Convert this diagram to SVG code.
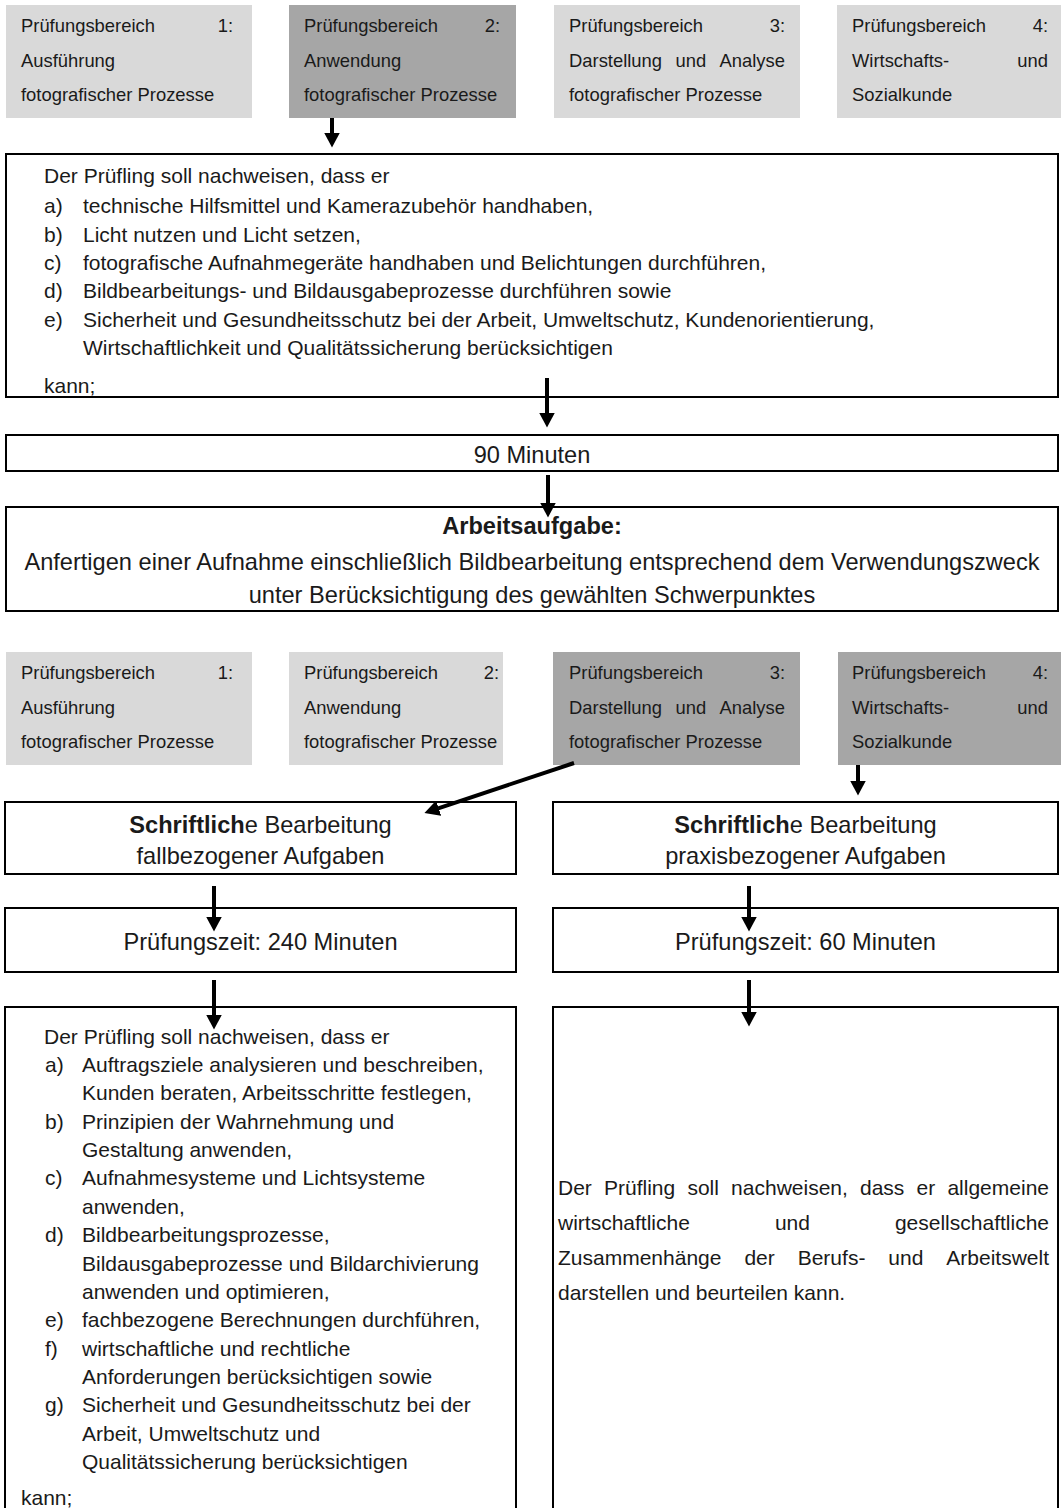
<svg xmlns="http://www.w3.org/2000/svg" width="1061" height="1508" viewBox="0 0 1061 1508">
<style>
text { font-family: "Liberation Sans", Arial, sans-serif; fill: #1a1a1a; }
.g { font-size: 18.4px; }
.m { font-size: 21px; }
.l { font-size: 23.6px; }
.b { font-weight: bold; }
.c { text-anchor: middle; }
.e { text-anchor: end; }
.box { fill: #fff; stroke: #000; stroke-width: 2; }
.lg { fill: #d9d9d9; }
.dg { fill: #a6a6a6; }
.arr { stroke: #000; stroke-width: 4; fill: none; marker-end: url(#ah); }
</style>
<defs>
<marker id="ah" markerUnits="userSpaceOnUse" markerWidth="16" markerHeight="16" refX="0.5" refY="8" orient="auto">
<path d="M0,0 L15,8 L0,16 z" fill="#000"/>
</marker>
</defs>
<rect width="1061" height="1508" fill="#fff"/>

<!-- top row -->
<g id="pb1-top">
<rect class="lg" x="6" y="5" width="246" height="113"/>
<text class="g" x="21" y="32">Prüfungsbereich</text><text class="g e" x="233" y="32">1:</text>
<text class="g" x="21" y="66.5">Ausführung</text>
<text class="g" x="21" y="101">fotografischer Prozesse</text>
</g>
<g id="pb2-top">
<rect class="dg" x="289" y="5" width="227" height="113"/>
<text class="g" x="304" y="32">Prüfungsbereich</text><text class="g e" x="500" y="32">2:</text>
<text class="g" x="304" y="66.5">Anwendung</text>
<text class="g" x="304" y="101">fotografischer Prozesse</text>
</g>
<g id="pb3-top">
<rect class="lg" x="554" y="5" width="246" height="113"/>
<text class="g" x="569" y="32">Prüfungsbereich</text><text class="g e" x="785" y="32">3:</text>
<text class="g" x="569" y="66.5">Darstellung</text><text class="g" x="675.5" y="66.5">und</text><text class="g e" x="785" y="66.5">Analyse</text>
<text class="g" x="569" y="101">fotografischer Prozesse</text>
</g>
<g id="pb4-top">
<rect class="lg" x="837" y="5" width="224" height="113"/>
<text class="g" x="852" y="32">Prüfungsbereich</text><text class="g e" x="1048" y="32">4:</text>
<text class="g" x="852" y="66.5">Wirtschafts-</text><text class="g e" x="1048" y="66.5">und</text>
<text class="g" x="852" y="101">Sozialkunde</text>
</g>

<g id="ziele-top">
<rect class="box" x="6" y="154" width="1052" height="243"/>
<text class="m" x="44" y="183">Der Prüfling soll nachweisen, dass er</text>
<text class="m" x="44" y="213">a)</text><text class="m" x="83" y="213">technische Hilfsmittel und Kamerazubehör handhaben,</text>
<text class="m" x="44" y="242">b)</text><text class="m" x="83" y="242">Licht nutzen und Licht setzen,</text>
<text class="m" x="44" y="270">c)</text><text class="m" x="83" y="270">fotografische Aufnahmegeräte handhaben und Belichtungen durchführen,</text>
<text class="m" x="44" y="298">d)</text><text class="m" x="83" y="298">Bildbearbeitungs- und Bildausgabeprozesse durchführen sowie</text>
<text class="m" x="44" y="327">e)</text><text class="m" x="83" y="327">Sicherheit und Gesundheitsschutz bei der Arbeit, Umweltschutz, Kundenorientierung,</text>
<text class="m" x="83" y="355">Wirtschaftlichkeit und Qualitätssicherung berücksichtigen</text>
<text class="m" x="44" y="393">kann;</text>
</g>

<g id="zeit-90">
<rect class="box" x="6" y="435" width="1052" height="36"/>
<text class="l c" x="532" y="463">90 Minuten</text>
</g>

<g id="arbeitsaufgabe">
<rect class="box" x="6" y="507" width="1052" height="104"/>
<text class="l c b" x="532" y="534">Arbeitsaufgabe:</text>
<text class="l c" x="532" y="570">Anfertigen einer Aufnahme einschließlich Bildbearbeitung entsprechend dem Verwendungszweck</text>
<text class="l c" x="532" y="603">unter Berücksichtigung des gewählten Schwerpunktes</text>
</g>

<!-- bottom row -->
<g id="pb1-bottom">
<rect class="lg" x="6" y="652" width="246" height="113"/>
<text class="g" x="21" y="679">Prüfungsbereich</text><text class="g e" x="233" y="679">1:</text>
<text class="g" x="21" y="713.5">Ausführung</text>
<text class="g" x="21" y="748">fotografischer Prozesse</text>
</g>
<g id="pb2-bottom">
<rect class="lg" x="289" y="652" width="214" height="113"/>
<text class="g" x="304" y="679">Prüfungsbereich</text><text class="g e" x="499" y="679">2:</text>
<text class="g" x="304" y="713.5">Anwendung</text>
<text class="g" x="304" y="748">fotografischer Prozesse</text>
</g>
<g id="pb3-bottom">
<rect class="dg" x="553" y="652" width="247" height="113"/>
<text class="g" x="569" y="679">Prüfungsbereich</text><text class="g e" x="785" y="679">3:</text>
<text class="g" x="569" y="713.5">Darstellung</text><text class="g" x="675.5" y="713.5">und</text><text class="g e" x="785" y="713.5">Analyse</text>
<text class="g" x="569" y="748">fotografischer Prozesse</text>
</g>
<g id="pb4-bottom">
<rect class="dg" x="838" y="652" width="223" height="113"/>
<text class="g" x="852" y="679">Prüfungsbereich</text><text class="g e" x="1048" y="679">4:</text>
<text class="g" x="852" y="713.5">Wirtschafts-</text><text class="g e" x="1048" y="713.5">und</text>
<text class="g" x="852" y="748">Sozialkunde</text>
</g>

<g id="schriftlich-fall">
<rect class="box" x="5" y="802" width="511" height="72"/>
<text class="l c" x="260.5" y="833"><tspan class="b">Schriftlich</tspan>e Bearbeitung</text>
<text class="l c" x="260.5" y="864">fallbezogener Aufgaben</text>
</g>
<g id="schriftlich-praxis">
<rect class="box" x="553" y="802" width="505" height="72"/>
<text class="l c" x="805.5" y="833"><tspan class="b">Schriftlich</tspan>e Bearbeitung</text>
<text class="l c" x="805.5" y="864">praxisbezogener Aufgaben</text>
</g>

<g id="zeit-240">
<rect class="box" x="5" y="908" width="511" height="64"/>
<text class="l c" x="260.5" y="950">Prüfungszeit: 240 Minuten</text>
</g>
<g id="zeit-60">
<rect class="box" x="553" y="908" width="505" height="64"/>
<text class="l c" x="805.5" y="950">Prüfungszeit: 60 Minuten</text>
</g>

<g id="ziele-fall">
<rect class="box" x="5" y="1007" width="511" height="530"/>
<text class="m" x="44" y="1044">Der Prüfling soll nachweisen, dass er</text>
<text class="m" x="45" y="1072">a)</text><text class="m" x="82" y="1072">Auftragsziele analysieren und beschreiben,</text>
<text class="m" x="82" y="1100.4">Kunden beraten, Arbeitsschritte festlegen,</text>
<text class="m" x="45" y="1128.7">b)</text><text class="m" x="82" y="1128.7">Prinzipien der Wahrnehmung und</text>
<text class="m" x="82" y="1157">Gestaltung anwenden,</text>
<text class="m" x="45" y="1185.4">c)</text><text class="m" x="82" y="1185.4">Aufnahmesysteme und Lichtsysteme</text>
<text class="m" x="82" y="1213.8">anwenden,</text>
<text class="m" x="45" y="1242">d)</text><text class="m" x="82" y="1242">Bildbearbeitungsprozesse,</text>
<text class="m" x="82" y="1270.5">Bildausgabeprozesse und Bildarchivierung</text>
<text class="m" x="82" y="1298.8">anwenden und optimieren,</text>
<text class="m" x="45" y="1327">e)</text><text class="m" x="82" y="1327">fachbezogene Berechnungen durchführen,</text>
<text class="m" x="45" y="1355.5">f)</text><text class="m" x="82" y="1355.5">wirtschaftliche und rechtliche</text>
<text class="m" x="82" y="1384">Anforderungen berücksichtigen sowie</text>
<text class="m" x="45" y="1412">g)</text><text class="m" x="82" y="1412">Sicherheit und Gesundheitsschutz bei der</text>
<text class="m" x="82" y="1440.6">Arbeit, Umweltschutz und</text>
<text class="m" x="82" y="1469">Qualitätssicherung berücksichtigen</text>
<text class="m" x="21" y="1505">kann;</text>
</g>

<g id="ziele-praxis">
<rect class="box" x="553" y="1007" width="505" height="530"/>
<text class="m" x="558" y="1195">Der</text><text class="m" x="604" y="1195">Prüfling</text><text class="m" x="687.4" y="1195">soll</text><text class="m" x="731.1" y="1195">nachweisen,</text><text class="m" x="860" y="1195">dass</text><text class="m" x="916.6" y="1195">er</text><text class="m e" x="1049" y="1195">allgemeine</text>
<text class="m" x="558" y="1230">wirtschaftliche</text><text class="m" x="774.9" y="1230">und</text><text class="m e" x="1049" y="1230">gesellschaftliche</text>
<text class="m" x="558" y="1265">Zusammenhänge</text><text class="m" x="744.4" y="1265">der</text><text class="m" x="797.7" y="1265">Berufs-</text><text class="m" x="888.3" y="1265">und</text><text class="m e" x="1049" y="1265">Arbeitswelt</text>
<text class="m" x="558" y="1300">darstellen und beurteilen kann.</text>
</g>

<g id="connectors">
<path class="arr" d="M332,118 L332,133"/>
<path class="arr" d="M547,378 L547,413"/>
<path class="arr" d="M548,475 L548,503"/>
<path class="arr" d="M574,763 L438.2,808.3"/>
<path class="arr" d="M858,765 L858,781"/>
<path class="arr" d="M214,886 L214,917"/>
<path class="arr" d="M214,980 L214,1015"/>
<path class="arr" d="M749,886 L749,917"/>
<path class="arr" d="M749,980 L749,1012"/>
</g>
</svg>
